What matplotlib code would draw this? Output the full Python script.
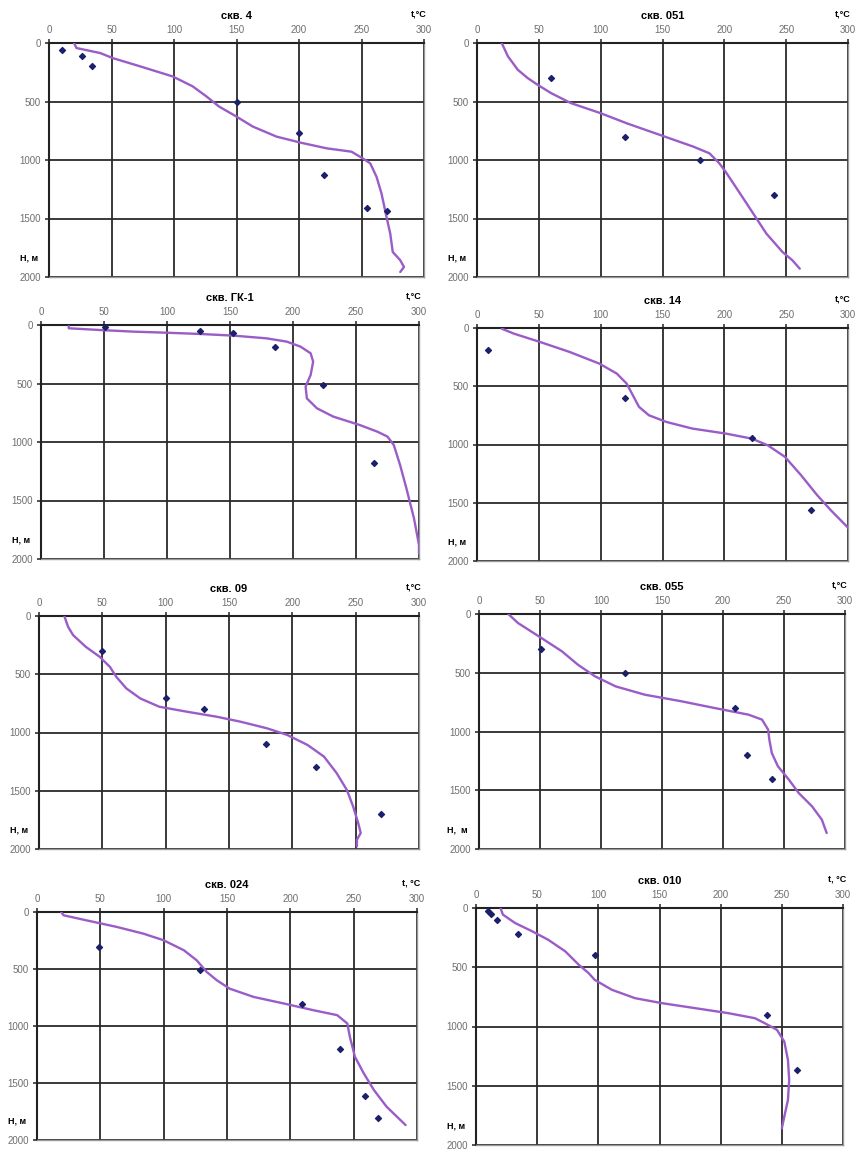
import matplotlib
matplotlib.use("Agg")
import matplotlib.pyplot as plt

plt.rcParams['font.family'] = ['Liberation Sans', 'DejaVu Sans']

# well names
wells = ["скв. 4", "скв. 051", "скв. ГК-1", "скв. 14",
         "скв. 09", "скв. 055", "скв. 024", "скв. 010"]

# fitted curves: temperature t (°C) and depth H (m)
curve_4_t = [20, 22, 41, 51, 73, 99, 115, 126, 136, 150, 163, 182, 201, 222, 242, 251, 257, 262, 266, 270, 273, 275, 281, 284, 281]
curve_4_h = [0, 43, 86, 129, 200, 286, 371, 457, 543, 629, 714, 800, 851, 900, 929, 986, 1029, 1143, 1286, 1486, 1629, 1786, 1857, 1914, 1957]

curve_051_t = [20, 25, 33, 41, 49, 60, 76, 100, 121, 148, 175, 188, 196, 201, 210, 218, 226, 234, 247, 255, 261]
curve_051_h = [0, 114, 229, 300, 357, 429, 514, 600, 686, 786, 886, 943, 1029, 1100, 1243, 1371, 1500, 1629, 1786, 1857, 1929]

curve_gk1_t = [22, 22, 47, 74, 100, 127, 153, 179, 195, 206, 214, 216, 214, 210, 211, 219, 232, 253, 267, 275, 280, 285, 290, 296, 300, 300]
curve_gk1_h = [10, 28, 43, 57, 66, 77, 91, 114, 142, 185, 242, 313, 427, 527, 627, 712, 783, 855, 912, 954, 1026, 1197, 1396, 1652, 1880, 1952]

curve_14_t = [20, 30, 51, 75, 99, 113, 121, 126, 131, 139, 153, 174, 201, 222, 235, 249, 262, 275, 286, 300]
curve_14_h = [6, 49, 120, 206, 306, 391, 477, 577, 677, 749, 806, 863, 906, 949, 1006, 1106, 1263, 1434, 1563, 1714]

curve_09_t = [20, 23, 27, 37, 48, 56, 61, 69, 80, 95, 117, 140, 159, 180, 196, 212, 225, 235, 243, 248, 252, 254, 251, 251]
curve_09_h = [0, 94, 165, 265, 351, 437, 522, 622, 708, 779, 822, 864, 907, 964, 1021, 1107, 1207, 1349, 1492, 1635, 1777, 1863, 1920, 1977]

curve_055_t = [24, 32, 49, 68, 81, 95, 112, 136, 166, 193, 221, 232, 237, 238, 240, 245, 254, 262, 273, 281, 285]
curve_055_h = [0, 77, 190, 318, 431, 530, 616, 687, 743, 800, 857, 899, 984, 1070, 1183, 1296, 1410, 1523, 1637, 1750, 1864]

curve_024_t = [19, 21, 39, 63, 84, 100, 116, 126, 134, 142, 152, 171, 195, 218, 237, 245, 247, 251, 258, 266, 276, 291]
curve_024_h = [0, 29, 73, 131, 190, 248, 336, 423, 526, 599, 672, 745, 803, 861, 905, 978, 1095, 1270, 1416, 1562, 1708, 1869]

curve_010_t = [20, 22, 32, 46, 59, 73, 84, 92, 97, 111, 130, 152, 179, 206, 228, 236, 246, 252, 255, 256, 255, 252, 250]
curve_010_h = [0, 56, 127, 197, 268, 366, 479, 549, 606, 690, 761, 803, 845, 887, 930, 972, 1028, 1127, 1282, 1451, 1620, 1761, 1859]

# measured points
pts_4_t = [10, 26, 34, 150, 200, 220, 254, 270]
pts_4_h = [60, 110, 200, 500, 770, 1130, 1410, 1440]

pts_051_t = [60, 120, 180, 240]
pts_051_h = [300, 800, 1000, 1300]

pts_gk1_t = [51, 126, 152, 186, 224, 264]
pts_gk1_h = [15, 50, 70, 190, 510, 1180]

pts_14_t = [9, 120, 222, 270]
pts_14_h = [190, 600, 943, 1560]

pts_09_t = [50, 100, 130, 179, 219, 270]
pts_09_h = [300, 700, 800, 1100, 1300, 1700]

pts_055_t = [51, 120, 210, 220, 240]
pts_055_h = [300, 500, 800, 1200, 1400]

pts_024_t = [49, 129, 209, 239, 259, 269]
pts_024_h = [305, 505, 805, 1205, 1610, 1805]

pts_010_t = [10, 12, 17, 34, 97, 238, 262]
pts_010_h = [25, 50, 100, 220, 400, 900, 1370]

curves = [(curve_4_t, curve_4_h), (curve_051_t, curve_051_h),
          (curve_gk1_t, curve_gk1_h), (curve_14_t, curve_14_h),
          (curve_09_t, curve_09_h), (curve_055_t, curve_055_h),
          (curve_024_t, curve_024_h), (curve_010_t, curve_010_h)]
points = [(pts_4_t, pts_4_h), (pts_051_t, pts_051_h),
          (pts_gk1_t, pts_gk1_h), (pts_14_t, pts_14_h),
          (pts_09_t, pts_09_h), (pts_055_t, pts_055_h),
          (pts_024_t, pts_024_h), (pts_010_t, pts_010_h)]

t_labels = ["t,°C", "t,°C", "t,°C", "t,°C", "t,°C", "t,°C", "t, °C", "t, °C"]
h_labels = ["H, м", "H, м", "H, м", "H, м", "H, м", "H,  м", "H, м", "H, м"]

x_ticks = [0, 50, 100, 150, 200, 250, 300]
y_ticks = [0, 500, 1000, 1500, 2000]

W, H = 857, 1150
# axes boxes in pixels: left, top, width, height
boxes = [(49, 43, 375, 234), (477, 43, 371, 234),
         (41, 325, 378, 234), (477, 328, 371, 233),
         (39, 616, 380, 233), (479, 614, 366, 235),
         (37, 912, 380, 228), (476, 908, 367, 237)]

fig = plt.figure(figsize=(W / 100, H / 100), dpi=100)

line_color = "#9a5cc6"
dot_color = "#1c1f6b"

for i in range(8):
    l, t, w, h = boxes[i]
    ax = fig.add_axes([l / W, 1 - (t + h) / H, w / W, h / H])
    ct, ch = curves[i]
    pt, ph = points[i]
    ax.plot(ct, ch, color=line_color, lw=1.7, zorder=3,
            solid_joinstyle="round", solid_capstyle="round")
    ax.scatter(pt, ph, marker="D", s=9, color=dot_color, zorder=4)

    ax.set_xlim(0, 300)
    ax.set_ylim(2000, 0)
    ax.set_xticks(x_ticks)
    ax.set_yticks(y_ticks)
    ax.xaxis.tick_top()
    ax.grid(True, color="#2a2a2a", lw=1.3)
    ax.set_axisbelow(True)
    ax.tick_params(axis="both", direction="out", length=3, width=1.2,
                   colors="#333333", labelcolor="#6e6e6e", labelsize=7, pad=3)
    for side in ["top", "left"]:
        ax.spines[side].set_color("#222222")
        ax.spines[side].set_linewidth(1.5)
    for side in ["right", "bottom"]:
        ax.spines[side].set_color("#999999")
        ax.spines[side].set_linewidth(1.0)

    ax.set_title(wells[i], fontsize=8, fontweight="bold", pad=17)
    ax.annotate(t_labels[i], xy=(1, 1), xycoords="axes fraction",
                xytext=(2, 21), textcoords="offset points",
                ha="right", va="center", fontsize=6.5, fontweight="bold")
    ax.annotate(h_labels[i], xy=(0, 0), xycoords="axes fraction",
                xytext=(-8, 14), textcoords="offset points",
                ha="right", va="center", fontsize=6.5, fontweight="bold")

fig.savefig("out.png", dpi=100)
